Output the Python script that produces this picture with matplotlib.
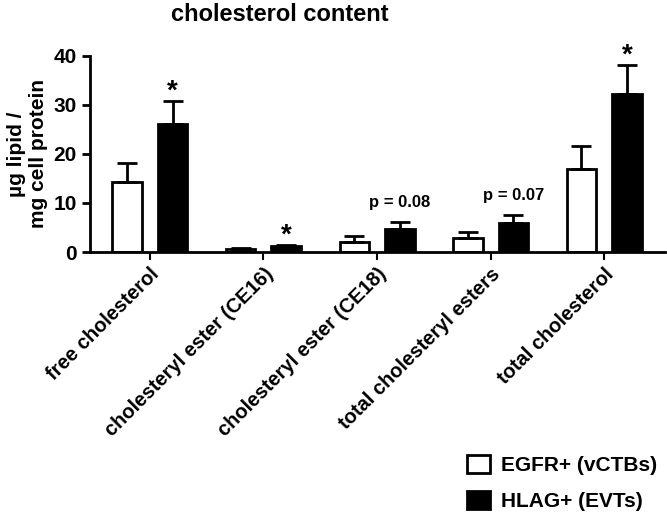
import numpy as np
import matplotlib
matplotlib.use("Agg")
import matplotlib.pyplot as plt
from matplotlib.patches import Patch

plt.rcParams['font.family'] = ['Liberation Sans', 'DejaVu Sans']
plt.rcParams['font.weight'] = 'bold'

categories = ['free cholesterol', 'cholesteryl ester (CE16)', 'cholesteryl ester (CE18)',
              'total cholesteryl esters', 'total cholesterol']
egfr_mean = [14.2, 0.6, 2.1, 2.8, 17.0]
egfr_err = [3.9, 0.2, 1.2, 1.3, 4.6]
hlag_mean = [26.1, 1.2, 4.7, 6.0, 32.1]
hlag_err = [4.7, 0.3, 1.4, 1.6, 6.1]
annotations = ['*', '*', 'p = 0.08', 'p = 0.07', '*']

fig = plt.figure(figsize=(6.67, 5.16), dpi=100)
ax = fig.add_axes([0.135, 0.5116, 0.862, 0.3804])

x = np.arange(len(categories))
w = 0.26
off = 0.2
ekw = dict(elinewidth=2, capthick=2, capsize=7, ecolor='black')
ax.bar(x - off, egfr_mean, w, color='white', edgecolor='black', linewidth=2,
       yerr=[np.zeros(5), egfr_err], error_kw=ekw, label='EGFR+ (vCTBs)')
ax.bar(x + off, hlag_mean, w, color='black', edgecolor='black', linewidth=2,
       yerr=[np.zeros(5), hlag_err], error_kw=ekw, label='HLAG+ (EVTs)')

# significance marks above the HLAG+ bars
for i, a in enumerate(annotations):
    top = hlag_mean[i] + hlag_err[i]
    if a == '*':
        ax.text(x[i] + off, top - 0.8, a, ha='center', va='bottom', fontsize=20, fontweight='bold')
    else:
        ax.text(x[i] + off, top + 2.4, a, ha='center', va='bottom', fontsize=12, fontweight='bold')

ax.set_xlim(-0.526, 4.535)
ax.set_ylim(0, 40)
ax.set_yticks([0, 10, 20, 30, 40])
ax.set_xticks(x)
ax.set_xticklabels(categories, rotation=45, ha='right', rotation_mode='anchor',
                   fontsize=14.5, fontweight='bold')
ax.tick_params(axis='y', labelsize=15, width=2, length=6)
ax.tick_params(axis='x', width=1.5, length=6, pad=3)
for lab in ax.get_yticklabels():
    lab.set_fontweight('bold')
for s in ['top', 'right']:
    ax.spines[s].set_visible(False)
for s in ['left', 'bottom']:
    ax.spines[s].set_linewidth(2)

ax.set_ylabel('µg lipid /\nmg cell protein', fontsize=15, fontweight='bold', labelpad=4)
fig.text(0.42, 0.971, 'cholesterol content', ha='center', va='center', fontsize=17, fontweight='bold')

handles = [Patch(facecolor='white', edgecolor='black', linewidth=2, label='EGFR+ (vCTBs)'),
           Patch(facecolor='black', edgecolor='black', linewidth=2, label='HLAG+ (EVTs)')]
fig.legend(handles=handles, loc='lower right', bbox_to_anchor=(1.013, -0.027), frameon=False,
           prop={'size': 15, 'weight': 'bold'}, handlelength=1.1, handleheight=1.0,
           handletextpad=0.5, labelspacing=0.75)

fig.savefig('out.png', dpi=100)
